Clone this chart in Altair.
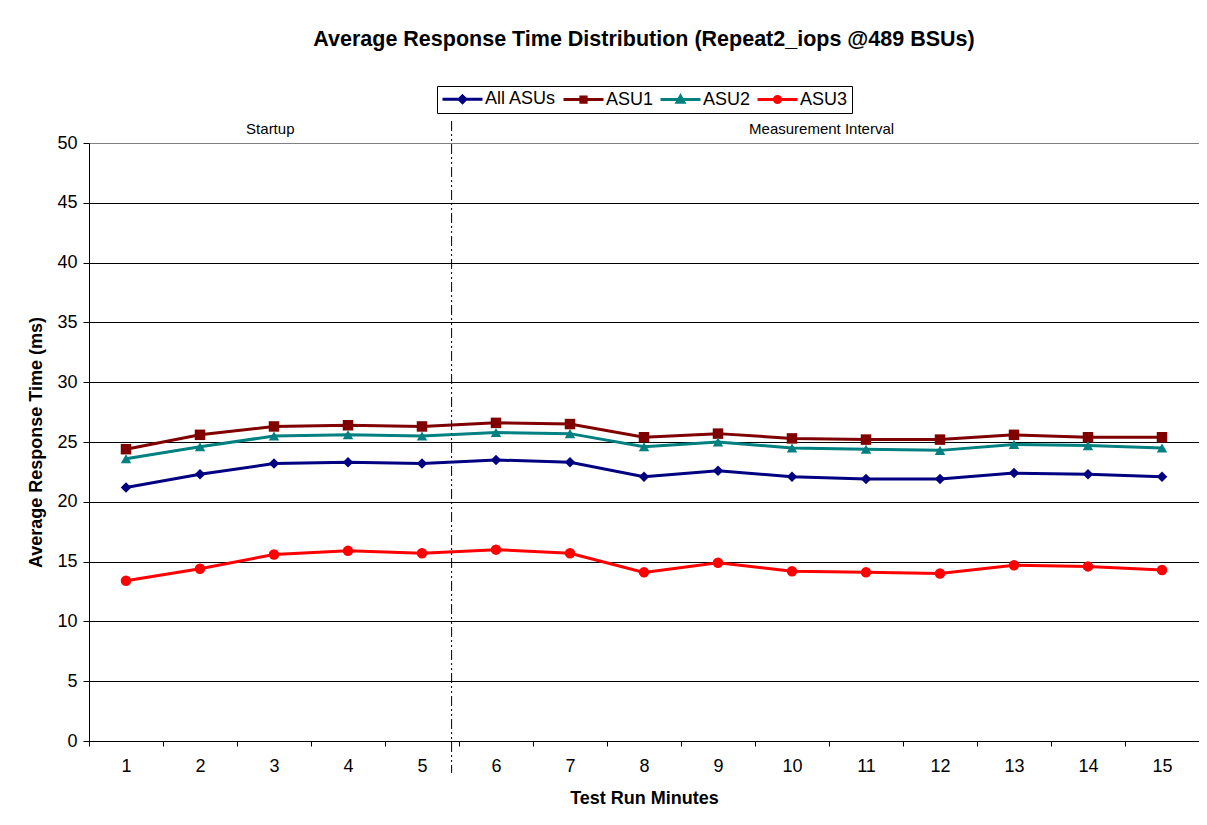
import altair as alt
import pandas as pd

# ---- data ----
minutes = list(range(1, 16))
series = ["All ASUs", "ASU1", "ASU2", "ASU3"]
colors = ["#000080", "#800000", "#008080", "#FF0000"]
markers = ["diamond", "square", "triangle-up", "circle"]

all_asus = [21.2, 22.3, 23.2, 23.3, 23.2, 23.5, 23.3, 22.1, 22.6, 22.1, 21.9, 21.9, 22.4, 22.3, 22.1]
asu1 = [24.4, 25.6, 26.3, 26.4, 26.3, 26.6, 26.5, 25.4, 25.7, 25.3, 25.2, 25.2, 25.6, 25.4, 25.4]
asu2 = [23.6, 24.6, 25.5, 25.6, 25.5, 25.8, 25.7, 24.6, 25.0, 24.5, 24.4, 24.3, 24.8, 24.7, 24.5]
asu3 = [13.4, 14.4, 15.6, 15.9, 15.7, 16.0, 15.7, 14.1, 14.9, 14.2, 14.1, 14.0, 14.7, 14.6, 14.3]

phase_labels = ["Startup", "Measurement Interval"]
phase_label_pos = [2.95, 10.4]
divider_pos = [5.4]

y_ticks = list(range(0, 51, 5))

# legend symbols: line segment with the series marker
legend_paths = [
    "M-1,0H4.333M1.667,-0.45L2.117,0L1.667,0.45L1.217,0Z",
    "M-1,0H4.333M1.317,-0.35H2.017V0.35H1.317Z",
    "M-1,0H4.333M1.667,-0.45L2.117,0.35H1.217Z",
    "M-1,0H4.333M2.067,0A0.4,0.4,0,1,1,1.267,0A0.4,0.4,0,1,1,2.067,0Z",
]

FONT = "Liberation Sans"

values = [all_asus, asu1, asu2, asu3]
rows = []
for s, vals in zip(series, values):
    for m, v in zip(minutes, vals):
        rows.append({"minute": m, "value": v, "series": s})
df = pd.DataFrame(rows)

W, H = 1110, 598

xband = alt.Scale(type="band", domain=minutes, paddingInner=0, paddingOuter=0)
qscale = alt.Scale(domain=[0.5, 15.5], nice=False, zero=False)
color_scale = alt.Scale(domain=series, range=colors)

y_enc = alt.Y(
    "value:Q",
    scale=alt.Scale(domain=[0, 50], nice=False),
    axis=alt.Axis(
        values=y_ticks,
        title="Average Response Time (ms)",
        grid=True,
        gridColor={"condition": {"test": "datum.value === 50", "value": "#808080"}, "value": "#000000"},
        gridWidth=1,
        tickSize=6,
        tickColor="black",
        domainColor="black",
        labelPadding=6,
        titlePadding=11,
    ),
)

x_axis = alt.Axis(
    title="Test Run Minutes",
    tickBand="extent",
    labelAngle=0,
    tickSize=5,
    tickColor="black",
    domainColor="black",
    labelPadding=11,
    titlePadding=14,
    grid=False,
)

base = alt.Chart(df).encode(
    y=y_enc,
    color=alt.Color("series:N", scale=color_scale, legend=None),
)

lines = base.mark_line(strokeWidth=3).encode(
    x=alt.X("minute:O", scale=xband, bandPosition=0.5, axis=x_axis),
)

points = base.mark_point(filled=True, size=110, opacity=1).encode(
    x=alt.X("minute:O", scale=xband, bandPosition=0.5, axis=None),
    shape=alt.Shape("series:N", scale=alt.Scale(domain=series, range=markers), legend=None),
)

divider = alt.Chart(pd.DataFrame({"pos": divider_pos})).mark_rule(
    color="black", strokeWidth=1, strokeDash=[10, 3, 2, 3, 2, 3]
).encode(
    x=alt.X("pos:Q", scale=qscale, axis=None),
    y=alt.value(-22),
    y2=alt.value(H + 32),
)

phase_text = alt.Chart(pd.DataFrame({"pos": phase_label_pos, "label": phase_labels})).mark_text(
    font=FONT, fontSize=15, color="black", baseline="middle", align="center"
).encode(
    x=alt.X("pos:Q", scale=qscale, axis=None),
    y=alt.value(-14),
    text="label:N",
)

leg = alt.Legend(
    title=None,
    orient="none",
    legendX=348,
    legendY=-57,
    direction="horizontal",
    padding=4,
    strokeColor="black",
    fillColor="white",
    labelFont=FONT,
    labelFontSize=18,
    labelColor="black",
    labelOffset=26,
    columnPadding=0,
    symbolSize=225,
    symbolStrokeWidth=3,
    symbolOpacity=1,
)

legend_layer = alt.Chart(pd.DataFrame({"series": series})).mark_point(filled=True, opacity=0).encode(
    fill=alt.Fill("series:N", scale=alt.Scale(domain=series, range=colors), legend=leg),
    stroke=alt.Stroke("series:N", scale=alt.Scale(domain=series, range=colors), legend=leg),
    shape=alt.Shape("series:N", scale=alt.Scale(domain=series, range=legend_paths), legend=leg),
)

chart = (
    alt.layer(lines, points, divider, phase_text, legend_layer)
    .resolve_scale(x="independent", color="independent", shape="independent",
                   fill="independent", stroke="independent")
    .properties(
        width=W,
        height=H,
        title=alt.Title(
            "Average Response Time Distribution (Repeat2_iops @489 BSUs)",
            font=FONT, fontSize=21.5, fontWeight="bold", color="black",
            anchor="middle", frame="group", offset=35,
        ),
        autosize=alt.AutoSizeParams(type="none"),
        padding={"left": 81, "top": 135, "right": 0, "bottom": 76},
        background="white",
    )
    .configure_view(stroke="#808080", strokeWidth=1)
    .configure_axis(
        labelFont=FONT, labelFontSize=18, labelColor="black",
        titleFont=FONT, titleFontSize=18, titleFontWeight="bold", titleColor="black",
    )
)

chart.save("out.html", embed_options={"renderer": "svg", "actions": False})
